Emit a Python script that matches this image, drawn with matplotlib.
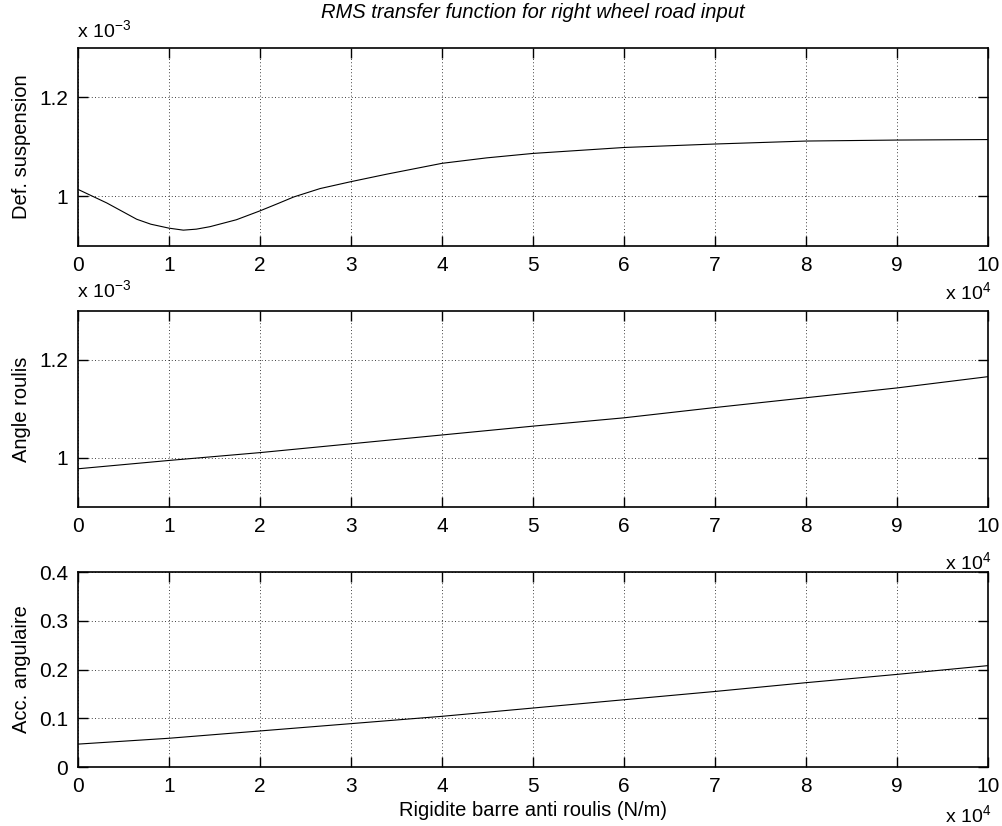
import matplotlib
matplotlib.use("Agg")
from matplotlib import pyplot as plt
from matplotlib.ticker import FuncFormatter

# anti-roll bar stiffness (N/m)
k_def = [0, 3150, 6450, 8000, 10000, 11570, 13000, 14500, 17400, 20000, 22000,
         23700, 26600, 30000, 33900, 40000, 44900, 50000, 60000, 70000, 80000,
         90000, 100000]
# suspension deflection RMS (m)
def_susp = [1.0143e-3, 0.987e-3, 0.954e-3, 0.944e-3, 0.936e-3, 0.932e-3, 0.934e-3,
            0.939e-3, 0.953e-3, 0.971e-3, 0.986e-3, 0.999e-3, 1.016e-3, 1.030e-3,
            1.045e-3, 1.067e-3, 1.078e-3, 1.087e-3, 1.099e-3, 1.106e-3, 1.112e-3,
            1.114e-3, 1.115e-3]

k = [0, 10000, 20000, 30000, 40000, 50000, 60000, 70000, 80000, 90000, 100000]
# roll angle RMS (rad)
angle_roulis = [0.978e-3, 0.995e-3, 1.011e-3, 1.029e-3, 1.047e-3, 1.065e-3,
                1.082e-3, 1.103e-3, 1.123e-3, 1.143e-3, 1.166e-3]
# angular acceleration RMS
acc_ang = [0.047, 0.059, 0.074, 0.089, 0.104, 0.121, 0.138, 0.155, 0.173, 0.190, 0.208]

xticks = [i * 10000 for i in range(11)]

plt.rcParams["font.family"] = ["Liberation Sans", "DejaVu Sans"]
plt.rcParams["mathtext.fontset"] = "custom"
plt.rcParams["mathtext.rm"] = "Liberation Sans"

fig = plt.figure(figsize=(10.03, 8.26), dpi=100)
L, W = 0.0778, 0.9073
ax1 = fig.add_axes([L, 0.7022, W, 0.2397])
ax2 = fig.add_axes([L, 0.3862, W, 0.2373])
ax3 = fig.add_axes([L, 0.0714, W, 0.2361])

xfmt = FuncFormatter(lambda v, p: f"{v / 1e4:g}")
mfmt = FuncFormatter(lambda v, p: f"{v * 1e3:g}")
pfmt = FuncFormatter(lambda v, p: f"{v:g}")

setup = [
    (ax1, k_def, def_susp, "Def. suspension", (0.9e-3, 1.3e-3), [1e-3, 1.2e-3], mfmt),
    (ax2, k, angle_roulis, "Angle roulis", (0.9e-3, 1.3e-3), [1e-3, 1.2e-3], mfmt),
    (ax3, k, acc_ang, "Acc. angulaire", (0, 0.4), [0, 0.1, 0.2, 0.3, 0.4], pfmt),
]
for ax, x, y, lab, ylim, yt, fmt in setup:
    ax.plot(x, y, color="black", lw=0.8)
    ax.set_xlim(0, 100000)
    ax.set_ylim(*ylim)
    ax.set_xticks(xticks)
    ax.set_yticks(yt)
    ax.xaxis.set_major_formatter(xfmt)
    ax.yaxis.set_major_formatter(fmt)
    ax.tick_params(direction="in", length=7, width=1, top=True, right=True,
                   labelsize=15, pad=7)
    ax.grid(True, color="black", linestyle=(0, (1, 3)), linewidth=0.6)
    ax.set_ylabel(lab, fontsize=14.5)
    ax.yaxis.set_label_coords(-0.052, 0.5)
    for s in ax.spines.values():
        s.set_linewidth(1.2)

ax3.set_xlabel("Rigidite barre anti roulis (N/m)", fontsize=14.5, labelpad=4)

fig.text(0.531, 1 - 12 / 826, "RMS transfer function for right wheel road input",
         ha="center", va="center", fontsize=14.5, style="italic")

# exponent labels
fig.text(0.077, 1 - 31 / 826, r"x 10$^{-3}$", ha="left", va="center", fontsize=14)
fig.text(0.077, 1 - 291 / 826, r"x 10$^{-3}$", ha="left", va="center", fontsize=14)
for ypx in (293, 563, 816):
    fig.text(0.988, 1 - ypx / 826, r"x 10$^{4}$", ha="right", va="center", fontsize=14)

fig.savefig("out.png", dpi=100)
